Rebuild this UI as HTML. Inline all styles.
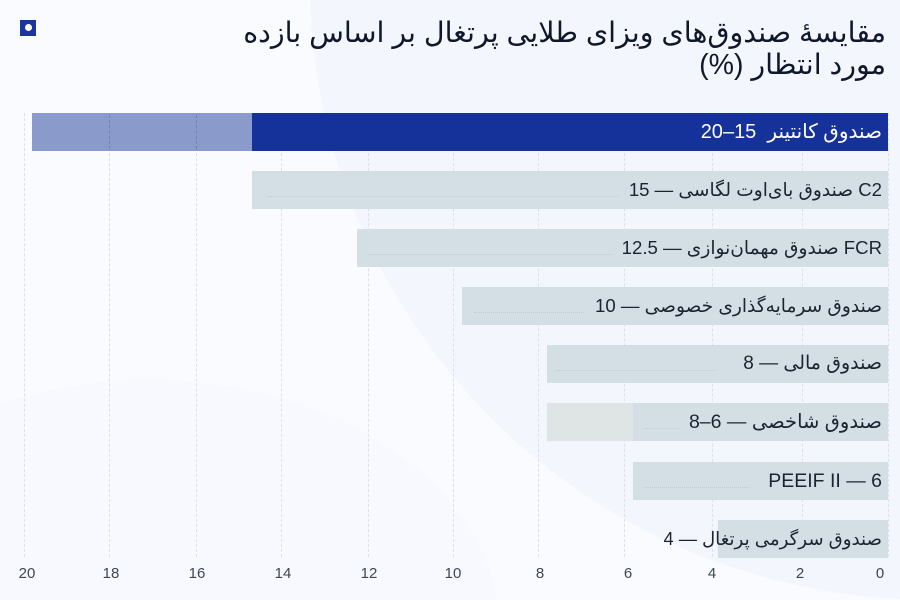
<!DOCTYPE html>
<html lang="fa">
<head>
<meta charset="utf-8">
<style>
  html,body{margin:0;padding:0;width:900px;height:600px;overflow:hidden;}
  #wrap{position:relative;width:900px;height:600px;overflow:hidden;background:#fafbfe;
    font-family:"Liberation Sans","DejaVu Sans",sans-serif;}
  .bg{position:absolute;left:0;top:0;width:900px;height:600px;}
  .icon{position:absolute;left:20px;top:20px;width:16px;height:16px;background:#1a35a0;}
  .icon:after{content:"";position:absolute;left:4.5px;top:4px;width:7px;height:7px;border-radius:50%;background:#fff;}
  .title{position:absolute;right:14px;top:17px;direction:rtl;text-align:right;color:#0f172a;
    font-size:28.5px;line-height:32px;white-space:nowrap;}
  .grid{position:absolute;top:113px;height:444px;width:0;border-left:1px dashed #dbe1e7;}
  .ov{position:absolute;top:115px;height:34px;width:0;border-left:1px dashed rgba(50,70,150,0.3);}
  .bar{position:absolute;height:38px;background:#d3dfe5;}
  .lbl{position:absolute;right:18px;height:38px;line-height:38px;direction:rtl;white-space:nowrap;
    font-size:19px;color:#1b2432;overflow:hidden;}
  .dots{position:absolute;height:0;border-top:1.5px dotted #bfcad1;}
  .tick{position:absolute;top:565px;width:40px;margin-left:-20px;text-align:center;font-size:15px;line-height:17px;color:#3d4655;}
</style>
</head>
<body>
<div id="wrap">
<svg class="bg" width="900" height="600" viewBox="0 0 900 600">
  <path d="M0,404 A350,250 0 0 1 497,600 L0,600 Z" fill="#f6f8fd" opacity="0.7"/>
  <path d="M310,0 A620,620 0 0 0 900,599 L900,0 Z" fill="#f3f6fc"/>
</svg>
<div class="icon"></div>
<div class="title">مقایسهٔ صندوق‌های ویزای طلایی پرتغال بر اساس بازده<br>مورد انتظار (%)</div>

<!-- grid -->
<div class="grid" style="left:24px"></div>
<div class="grid" style="left:109px"></div>
<div class="grid" style="left:196px"></div>
<div class="grid" style="left:281px"></div>
<div class="grid" style="left:368px"></div>
<div class="grid" style="left:453px"></div>
<div class="grid" style="left:538px"></div>
<div class="grid" style="left:624px"></div>
<div class="grid" style="left:712px"></div>
<div class="grid" style="left:802px"></div>
<div class="grid" style="left:888px"></div>

<!-- bar 1 -->
<div class="bar" style="top:113px;left:32px;width:220px;background:#8a9acb"></div>
<div class="ov" style="left:109px"></div>
<div class="ov" style="left:196px"></div>
<div class="bar" style="top:113px;left:252px;width:636px;background:#15319a"></div>
<div class="lbl" style="top:113px;color:#ffffff;font-size:20px">صندوق کانتینر&nbsp; 15–20</div>

<!-- bar 2 -->
<div class="bar" style="top:171px;left:252px;width:636px"></div>
<div class="dots" style="top:196px;left:268px;width:350px"></div>
<div class="lbl" style="top:171px;font-size:18.6px">C2 صندوق بای‌اوت لگاسی — 15</div>

<!-- bar 3 -->
<div class="bar" style="top:229px;left:357px;width:531px"></div>
<div class="dots" style="top:254px;left:368px;width:245px"></div>
<div class="lbl" style="top:229px;font-size:18.6px">FCR صندوق مهمان‌نوازی — 12.5</div>

<!-- bar 4 -->
<div class="bar" style="top:287px;left:462px;width:426px"></div>
<div class="dots" style="top:312px;left:474px;width:110px"></div>
<div class="lbl" style="top:287px;font-size:18.6px">صندوق سرمایه‌گذاری خصوصی — 10</div>

<!-- bar 5 -->
<div class="bar" style="top:345px;left:547px;width:341px"></div>
<div class="dots" style="top:370px;left:556px;width:160px"></div>
<div class="lbl" style="top:345px">صندوق مالی — 8</div>

<!-- bar 6 -->
<div class="bar" style="top:403px;left:547px;width:86px;background:#dfe4e5"></div>
<div class="bar" style="top:403px;left:633px;width:255px"></div>
<div class="dots" style="top:428px;left:645px;width:35px"></div>
<div class="lbl" style="top:403px;font-size:19.5px">صندوق شاخصی — 6–8</div>

<!-- bar 7 -->
<div class="bar" style="top:462px;left:633px;width:255px"></div>
<div class="dots" style="top:487px;left:644px;width:105px"></div>
<div class="lbl" style="top:462px;font-size:19.5px">PEEIF II — 6</div>

<!-- bar 8 -->
<div class="bar" style="top:520px;left:718px;width:170px"></div>
<div class="lbl" style="top:520px;font-size:18.2px">صندوق سرگرمی پرتغال — 4</div>

<!-- ticks -->
<div class="tick" style="left:27px">20</div>
<div class="tick" style="left:111px">18</div>
<div class="tick" style="left:197px">16</div>
<div class="tick" style="left:283px">14</div>
<div class="tick" style="left:369px">12</div>
<div class="tick" style="left:453px">10</div>
<div class="tick" style="left:540px">8</div>
<div class="tick" style="left:628px">6</div>
<div class="tick" style="left:712px">4</div>
<div class="tick" style="left:800px">2</div>
<div class="tick" style="left:880px">0</div>
</div>
</body>
</html>
